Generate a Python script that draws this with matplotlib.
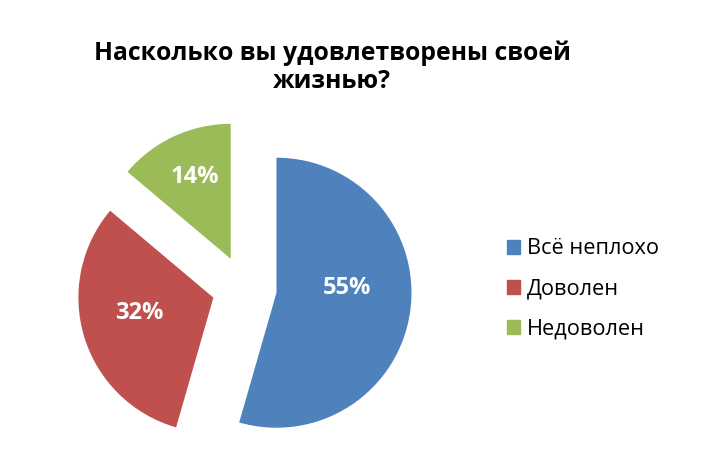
import numpy as np
import matplotlib
matplotlib.use("Agg")
import matplotlib.pyplot as plt

# data
labels = ["Всё неплохо", "Доволен", "Недоволен"]
values = [55, 32, 14]
colors = ["#4F81BD", "#C0504D", "#9BBB59"]
title = "Насколько вы удовлетворены своей\nжизнью?"

plt.rcParams["font.family"] = ["Open Sans", "DejaVu Sans"]

W, H = 719, 473
fig = plt.figure(figsize=(W / 100, H / 100), dpi=100)
ax = fig.add_axes([0, 0, 1, 1])

# pie in pixel units (explode is absolute, not scaled by radius)
cx, cy, r = 244.4, H - 288.2, 135
ex = 0.24 * r
wedges, _ = ax.pie(values, colors=colors, startangle=90, counterclock=False,
                   explode=[ex] * 3, radius=r, center=(cx, cy),
                   wedgeprops=dict(linewidth=0))

# percent labels, placed roughly where excel puts them
lab_dist = [0.52, 0.56, 0.66]
lab_shift = [12, -5, -1]  # degrees
for w, v, d, s in zip(wedges, values, lab_dist, lab_shift):
    mid0 = np.deg2rad((w.theta1 + w.theta2) / 2)
    mid = mid0 + np.deg2rad(s)
    ox = cx + ex * np.cos(mid0)
    oy = cy + ex * np.sin(mid0)
    ax.text(ox + d * r * np.cos(mid), oy + d * r * np.sin(mid), f"{v}%",
            ha="center", va="center", color="white", fontsize=17,
            fontweight="bold")

ax.set_xlim(0, W)
ax.set_ylim(0, H)
ax.set_aspect("equal")
ax.axis("off")

fig.text(332 / W, 1 - 40 / H, title, ha="center", va="top", fontsize=17.8,
         fontweight="bold", linespacing=1.2)

# legend
handles = [plt.Rectangle((0, 0), 1, 1, color=c) for c in colors]
fig.legend(handles, labels, loc="center left", bbox_to_anchor=(487 / W, 1 - 289 / H),
           frameon=False, fontsize=15.7, handlelength=0.6, handleheight=0.6,
           handletextpad=0.35, labelspacing=0.88)

fig.savefig("out.png", dpi=100)
